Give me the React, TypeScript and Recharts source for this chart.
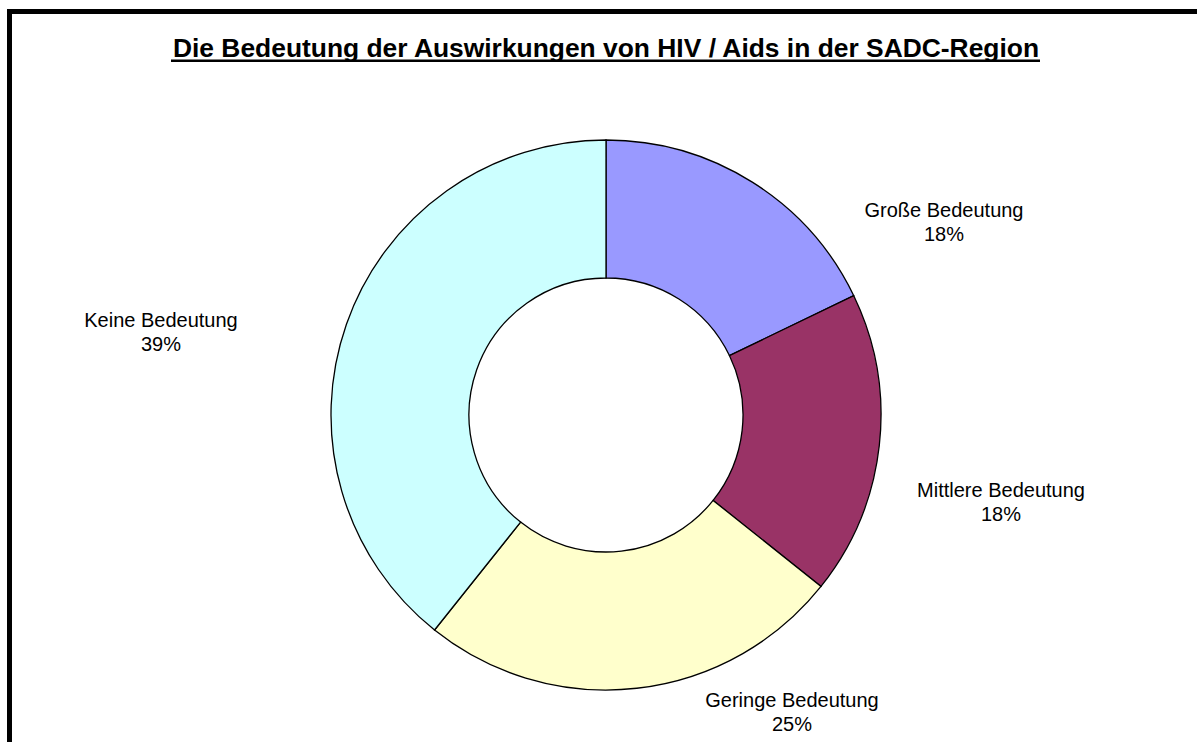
import React from "react";
import { PieChart, Pie, Cell } from "recharts";

// ---- data ----
const categories = ["Große Bedeutung", "Mittlere Bedeutung", "Geringe Bedeutung", "Keine Bedeutung"];
const counts = [10, 10, 14, 22];
const colors = ["#9999FF", "#993366", "#FFFFCC", "#CCFFFF"];
const title = "Die Bedeutung der Auswirkungen von HIV / Aids in der SADC-Region";

// ---- layout (label offsets relative to the pie centre, first-line baseline) ----
const LABEL_OFFSETS: [number, number][] = [
  [338, -198],
  [395, 82],
  [186, 292],
  [-445, -88],
];

const W = 1197;
const H = 742;
const FONT = "'Liberation Sans', Arial, Helvetica, sans-serif";

const data = categories.map((name, i) => ({ name, value: counts[i] }));

const renderLabel = (props: any) => {
  const { cx, cy, index, percent, name } = props;
  const [dx, dy] = LABEL_OFFSETS[index];
  const x = cx + dx;
  const y = cy + dy;
  return (
    <text
      x={x}
      y={y}
      textAnchor="middle"
      fontFamily={FONT}
      fontSize={20}
      fill="#000"
    >
      <tspan x={x} y={y}>{name}</tspan>
      <tspan x={x} y={y + 24}>{`${Math.round(percent * 100)}%`}</tspan>
    </text>
  );
};

export default function App() {
  return (
    <div
      style={{
        position: "absolute",
        left: 0,
        top: 0,
        width: W,
        height: H,
        overflow: "hidden",
        background: "#fff",
      }}
    >
      <div
        style={{
          position: "absolute",
          left: 7,
          top: 9,
          width: W + 200,
          height: H + 200,
          border: "5px solid #000",
          boxSizing: "border-box",
        }}
      />
      <svg
        width={W}
        height={90}
        style={{ position: "absolute", left: 0, top: 0 }}
      >
        <text
          x={606}
          y={57}
          textAnchor="middle"
          fontFamily={FONT}
          fontWeight="bold"
          fontSize={26.4}
          fill="#000"
        >
          {title}
        </text>
        <line x1={171} x2={1040} y1={60.8} y2={60.8} stroke="#000" strokeWidth={2.6} />
      </svg>
      <div style={{ position: "absolute", left: 0, top: 0 }}>
        <PieChart width={W} height={H} margin={{ top: 0, right: 0, bottom: 0, left: 0 }}>
          <Pie
            data={data}
            dataKey="value"
            nameKey="name"
            cx={606}
            cy={415}
            innerRadius={137}
            outerRadius={275}
            startAngle={90}
            endAngle={-270}
            stroke="#000"
            strokeWidth={1.3}
            label={renderLabel}
            labelLine={false}
            isAnimationActive={false}
          >
            {data.map((d, i) => (
              <Cell key={d.name} fill={colors[i]} stroke="#000" strokeWidth={1.3} />
            ))}
          </Pie>
        </PieChart>
      </div>
    </div>
  );
}
